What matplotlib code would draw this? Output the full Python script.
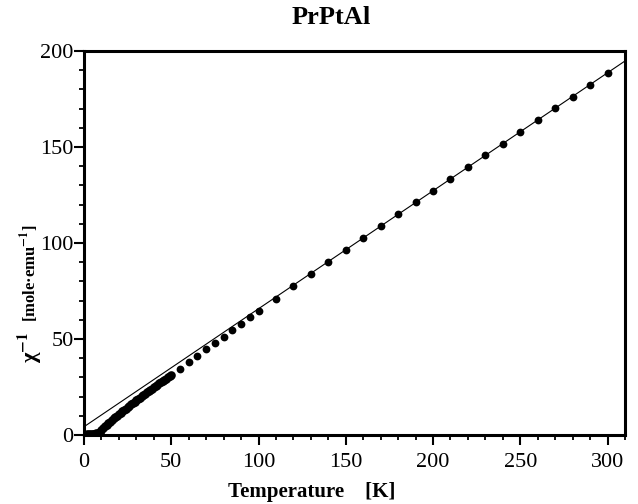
import matplotlib
matplotlib.use("Agg")
import matplotlib.pyplot as plt
import numpy as np
from matplotlib.ticker import MultipleLocator

plt.rcParams['font.family'] = ['Liberation Serif', 'DejaVu Serif']
plt.rcParams['mathtext.fontset'] = 'stix'

# inverse susceptibility, low temperature (dense measurements)
T_low = [2, 3, 4, 5, 6, 7, 8, 9, 10, 11, 12, 13, 14, 15, 16, 17, 18, 19, 20,
         21, 22, 23, 24, 25, 26, 27, 28, 29, 30, 31, 32, 33, 34, 35, 36, 37,
         38, 39, 40, 41, 42, 43, 44, 45, 46, 47, 48, 49, 50]
chi_low = [0.5, 0.4, 0.4, 0.5, 0.6, 0.8, 1.1, 1.8, 2.8, 3.8, 4.6, 5.4, 6.2, 7.0,
           7.8, 8.6, 9.4, 10.1, 10.8, 11.6, 12.3, 13.0, 13.8, 14.5, 15.2, 15.9,
           16.6, 17.3, 18.0, 18.7, 19.4, 20.1, 20.8, 21.5, 22.2, 22.8, 23.5,
           24.2, 24.9, 25.6, 26.3, 26.9, 27.6, 28.2, 28.9, 29.4, 30.0, 30.6, 31.2]
# higher temperature points
T_high = [55, 60, 65, 70, 75, 80, 85, 90, 95, 100, 110, 120, 130, 140, 150,
          160, 170, 180, 190, 200, 210, 220, 230, 240, 250, 260, 270, 280,
          290, 300]
chi_high = [34.6, 38.0, 41.3, 44.6, 48.0, 51.2, 54.5, 57.8, 61.2, 64.5, 71.0,
            77.4, 83.7, 90.0, 96.3, 102.6, 108.8, 115.0, 121.1, 127.3, 133.5,
            139.6, 145.7, 151.8, 158.0, 164.1, 170.2, 176.3, 182.4, 188.6]
# Curie-Weiss fit line
fit_T = [0, 310]
fit_chi = [4.3, 194.8]

fig = plt.figure(figsize=(6.38, 5.04), dpi=100)
ax = fig.add_axes([84/638, 1-435/504, 541/638, 384/504])

ax.plot(fit_T, fit_chi, color='black', lw=0.8)
ax.plot(T_low, chi_low, 'o', color='black', ms=6.2, mec='none')
ax.plot(T_high, chi_high, 'o', color='black', ms=5.6, mec='none')

ax.set_xlim(0, 310)
ax.set_ylim(0, 200)
ax.xaxis.set_major_locator(MultipleLocator(50))
ax.xaxis.set_minor_locator(MultipleLocator(10))
ax.yaxis.set_major_locator(MultipleLocator(50))
ax.yaxis.set_minor_locator(MultipleLocator(10))
ax.tick_params(which='major', direction='out', length=7, width=1.5, labelsize=16)
ax.tick_params(axis='y', which='major', pad=0.5)
ax.tick_params(axis='x', which='major', pad=6)
ax.tick_params(which='minor', direction='out', length=3.5, width=1.3)
for s in ax.spines.values():
    s.set_linewidth(2.2)

fig.text(331/638, 1-17/504, 'PrPtAl', ha='center', va='center',
         fontsize=19, fontweight='bold')
fig.text(312/638, 1-492/504, 'Temperature    [K]', ha='center', va='center',
         fontsize=15, fontweight='bold')
fig.text(30/638, 1-347/504, r'χ$^{\mathbf{-1}}$',
         ha='center', va='center', rotation=90, fontsize=16, fontweight='bold')
fig.text(30/638, 1-273/504, r'[mole·emu$^{\mathbf{-1}}$]',
         ha='center', va='center', rotation=90, fontsize=12, fontweight='bold')

fig.savefig('out.png', dpi=100)
